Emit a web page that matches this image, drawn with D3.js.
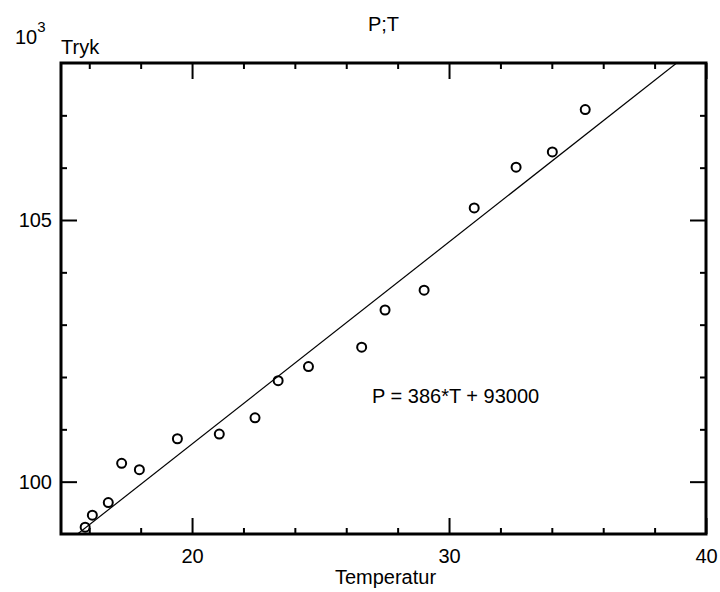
<!DOCTYPE html>
<html>
<head>
<meta charset="utf-8">
<script src="https://cdn.jsdelivr.net/npm/d3@7"></script>
<style>
  body { margin: 0; background: #fff; }
  svg text { font-family: "Liberation Sans", Arial, sans-serif; fill: #000; }
</style>
</head>
<body>
<svg class="chart"></svg>
<script>
// measured temperature (T) and pressure (P)
const temperatur = [15.84, 16.12, 16.74, 17.26, 17.95, 19.43, 21.06, 22.45, 23.35, 24.53, 26.60, 27.51, 29.03, 30.98, 32.61, 34.02, 35.30];
const tryk = [99130, 99360, 99600, 100350, 100230, 100820, 100910, 101220, 101930, 102200, 102570, 103280, 103660, 105230, 106010, 106300, 107110];

// fitted line P = a*T + b
const fitSlope = 386;
const fitIntercept = 93000;

const xMajor = [20, 30, 40];
const xMinor = [16, 18, 22, 24, 26, 28, 32, 34, 36, 38];
const yMajor = [100000, 105000];
const yMinor = [101000, 102000, 103000, 104000, 106000, 107000];

const width = 720;
const height = 592;
const marginTop = 63;
const marginRight = 14;
const marginBottom = 58;
const marginLeft = 61;
const fontSize = 20;

const x = d3.scaleLinear([14.9, 40], [marginLeft, width - marginRight]);
const y = d3.scaleLinear([99000, 108000], [height - marginBottom, marginTop]);

const svg = d3.select('.chart')
    .attr('width', width)
    .attr('height', height)
    .attr('viewBox', [0, 0, width, height])
    .style('font-size', fontSize + 'px');

svg.append('defs').append('clipPath')
    .attr('id', 'plot-clip')
  .append('rect')
    .attr('x', marginLeft)
    .attr('y', marginTop)
    .attr('width', width - marginRight - marginLeft)
    .attr('height', height - marginBottom - marginTop);

// ticks point inward on all four sides, major ones longer
const tickAxis = (g, axis) => g.call(axis)
    .call(g => g.select('.domain').remove())
    .call(g => g.selectAll('.tick line').attr('stroke', '#000').attr('stroke-width', 2))
    .call(g => g.selectAll('.tick text')
        .style('font-family', '"Liberation Sans", Arial, sans-serif')
        .style('font-size', fontSize + 'px')
        .attr('fill', '#000'));

const atBottom = `translate(0,${height - marginBottom})`;
const atTop = `translate(0,${marginTop})`;
const atLeft = `translate(${marginLeft},0)`;
const atRight = `translate(${width - marginRight},0)`;

svg.append('g').attr('transform', atBottom)
    .call(g => tickAxis(g, d3.axisBottom(x).tickValues(xMajor).tickSize(-16).tickPadding(15).tickFormat(d3.format('d'))));
svg.append('g').attr('transform', atBottom)
    .call(g => tickAxis(g, d3.axisBottom(x).tickValues(xMinor).tickSize(-6).tickFormat('')));
svg.append('g').attr('transform', atTop)
    .call(g => tickAxis(g, d3.axisTop(x).tickValues(xMajor).tickSize(-16).tickFormat('')));
svg.append('g').attr('transform', atTop)
    .call(g => tickAxis(g, d3.axisTop(x).tickValues(xMinor).tickSize(-6).tickFormat('')));

svg.append('g').attr('transform', atLeft)
    .call(g => tickAxis(g, d3.axisLeft(y).tickValues(yMajor).tickSize(-16).tickPadding(9).tickFormat(d => d / 1000)));
svg.append('g').attr('transform', atLeft)
    .call(g => tickAxis(g, d3.axisLeft(y).tickValues(yMinor).tickSize(-6).tickFormat('')));
svg.append('g').attr('transform', atRight)
    .call(g => tickAxis(g, d3.axisRight(y).tickValues(yMajor).tickSize(-16).tickFormat('')));
svg.append('g').attr('transform', atRight)
    .call(g => tickAxis(g, d3.axisRight(y).tickValues(yMinor).tickSize(-6).tickFormat('')));

// frame
svg.append('rect')
    .attr('x', marginLeft)
    .attr('y', marginTop)
    .attr('width', width - marginRight - marginLeft)
    .attr('height', height - marginBottom - marginTop)
    .attr('fill', 'none')
    .attr('stroke', '#000')
    .attr('stroke-width', 3);

// regression line
const [t0, t1] = x.domain();
svg.append('line')
    .attr('clip-path', 'url(#plot-clip)')
    .attr('x1', x(t0))
    .attr('y1', y(fitSlope * t0 + fitIntercept))
    .attr('x2', x(t1))
    .attr('y2', y(fitSlope * t1 + fitIntercept))
    .attr('stroke', '#000')
    .attr('stroke-width', 1.2);

// measurements
svg.append('g')
    .attr('fill', 'none')
    .attr('stroke', '#000')
    .attr('stroke-width', 2)
  .selectAll('circle')
  .data(d3.range(temperatur.length))
  .join('circle')
    .attr('cx', i => x(temperatur[i]))
    .attr('cy', i => y(tryk[i]))
    .attr('r', 4.5);

// texts
const plotCenter = (marginLeft + width - marginRight) / 2;

svg.append('text')
    .attr('x', plotCenter)
    .attr('y', 31)
    .attr('text-anchor', 'middle')
    .text('P;T');

svg.append('text')
    .attr('x', plotCenter + 2)
    .attr('y', 584)
    .attr('text-anchor', 'middle')
    .text('Temperatur');

svg.append('text')
    .attr('x', marginLeft)
    .attr('y', 54)
    .text('Tryk');

svg.append('text')
    .attr('x', 15)
    .attr('y', 44)
    .call(t => t.append('tspan').text('10'))
    .call(t => t.append('tspan').attr('dy', -12).style('font-size', '15px').text('3'));

svg.append('text')
    .attr('x', 372)
    .attr('y', 403)
    .text(`P = ${fitSlope}*T + ${fitIntercept}`);
</script>
</body>
</html>
